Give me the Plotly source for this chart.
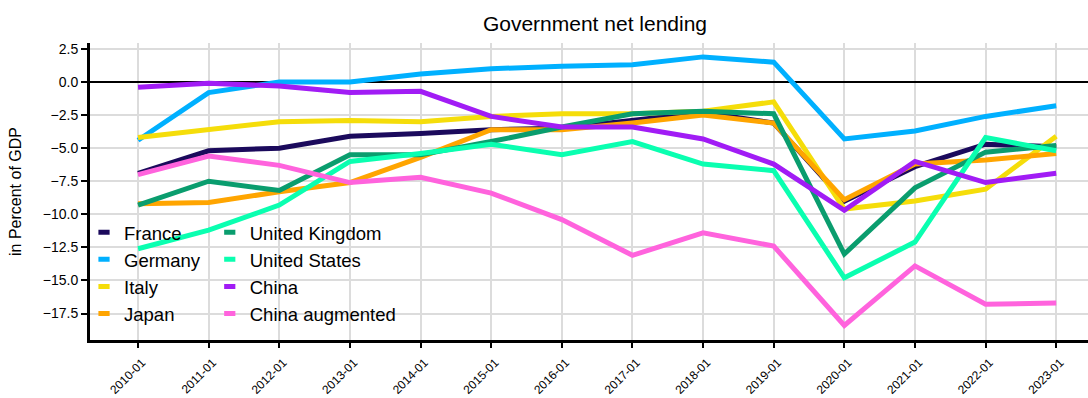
import plotly.graph_objects as go

years = ["2010-01", "2011-01", "2012-01", "2013-01", "2014-01", "2015-01", "2016-01",
         "2017-01", "2018-01", "2019-01", "2020-01", "2021-01", "2022-01", "2023-01"]

france = [-6.9, -5.2, -5.0, -4.1, -3.9, -3.6, -3.5, -2.9, -2.3, -3.1, -9.0, -6.4, -4.7, -4.9]
germany = [-4.4, -0.8, 0.0, 0.0, 0.6, 1.0, 1.2, 1.3, 1.9, 1.5, -4.3, -3.7, -2.6, -1.8]
italy = [-4.2, -3.6, -3.0, -2.9, -3.0, -2.6, -2.4, -2.4, -2.2, -1.5, -9.6, -9.0, -8.1, -4.1]
japan = [-9.2, -9.1, -8.3, -7.6, -5.7, -3.6, -3.6, -3.1, -2.5, -3.1, -8.9, -6.2, -5.9, -5.4]
uk = [-9.3, -7.5, -8.2, -5.5, -5.5, -4.5, -3.4, -2.4, -2.2, -2.4, -13.0, -8.0, -5.3, -4.8]
us = [-12.6, -11.2, -9.3, -6.0, -5.4, -4.7, -5.5, -4.5, -6.2, -6.7, -14.8, -12.1, -4.2, -5.2]
china = [-0.4, -0.1, -0.3, -0.8, -0.7, -2.6, -3.4, -3.4, -4.3, -6.2, -9.7, -6.0, -7.6, -6.9]
china_aug = [-7.0, -5.6, -6.3, -7.6, -7.2, -8.4, -10.4, -13.1, -11.4, -12.4, -18.4, -13.9, -16.8, -16.7]

names = ["France", "Germany", "Italy", "Japan", "United Kingdom", "United States", "China", "China augmented"]
series = [france, germany, italy, japan, uk, us, china, china_aug]
colors = ["#1b0a5c", "#00b0ff", "#f5dd0a", "#ffa500", "#0a9d6e", "#0affb0", "#a11cf5", "#ff63dd"]
legend_ids = ["legend", "legend", "legend", "legend", "legend2", "legend2", "legend2", "legend2"]

fig = go.Figure()
for name, vals, col in zip(names, series, colors):
    fig.add_trace(go.Scatter(x=years, y=vals, mode="lines", name=name,
                             line=dict(color=col, width=5), showlegend=False))

for name, col, lid in zip(names, colors, legend_ids):
    fig.add_trace(go.Scatter(x=[None], y=[None], mode="markers", name=name, legend=lid,
                             marker=dict(symbol="line-ew", size=8, color=col,
                                         line=dict(color=col, width=5))))

font_family = "Liberation Sans, Arial, sans-serif"
legend_style = dict(bgcolor="rgba(0,0,0,0)", font=dict(size=18.5, color="black", family=font_family),
                    yanchor="top", xanchor="left", tracegroupgap=0, itemwidth=30)

fig.update_layout(
    width=1088, height=398,
    margin=dict(l=90, r=0, t=43, b=58),
    paper_bgcolor="white", plot_bgcolor="white",
    font=dict(family=font_family, color="black"),
    title=dict(text="Government net lending", x=0.506, xref="paper", y=0.94, yanchor="middle",
               font=dict(size=21, color="black")),
    legend=dict(x=-0.006, y=0.425, **legend_style),
    legend2=dict(x=0.12, y=0.425, **legend_style),
    xaxis=dict(type="category", range=[-0.68, 13.45], showgrid=True, gridcolor="#dcdcdc", gridwidth=1.5,
               showline=True, linecolor="black", linewidth=3, ticks="outside", tickcolor="black",
               ticklen=5, tickwidth=2, tickangle=-45, tickfont=dict(size=12, color="black"),
               ticklabelshift=4, ticklabelstandoff=3,
               zeroline=False, automargin=False),
    yaxis=dict(range=[-19.5, 2.95], dtick=2.5, tick0=0, tickformat=".1f", showgrid=True,
               gridcolor="#dcdcdc", gridwidth=1.5, showline=True, linecolor="black", linewidth=3,
               ticks="outside", tickcolor="black", ticklen=6, tickwidth=2,
               tickfont=dict(size=14, color="black"), automargin=False,
               zeroline=True, zerolinecolor="black", zerolinewidth=1.5,
               title=dict(text="in Percent of GDP", font=dict(size=16, color="black"), standoff=18)),
)

fig.write_html("out.html", config={"displayModeBar": False},
               post_script="document.body.style.margin='0';document.body.style.overflow='hidden';")
